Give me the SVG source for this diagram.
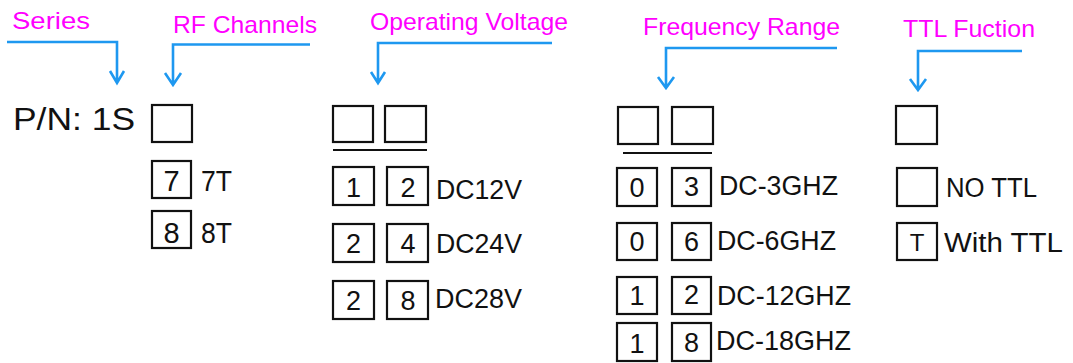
<svg xmlns="http://www.w3.org/2000/svg" width="1073" height="363" viewBox="0 0 1073 363">
<style>
.t{font-family:"Liberation Sans",Arial,sans-serif;fill:#FF00FF;font-size:24px}
.k{font-family:"Liberation Sans",Arial,sans-serif;fill:#111;font-size:27px}
.d{font-family:"Liberation Sans",Arial,sans-serif;fill:#111;font-size:27px;text-anchor:middle}
.b{fill:#fff;stroke:#111;stroke-width:2.2}
.c{fill:none;stroke:#1E98F0;stroke-width:2.6}
.u{stroke:#111;stroke-width:2.2}
</style>
<rect width="1073" height="363" fill="#fff"/>
<g id="titles">
<text class="t" x="12" y="29" textLength="78" lengthAdjust="spacingAndGlyphs">Series</text>
<text class="t" x="173" y="32.5" textLength="144" lengthAdjust="spacingAndGlyphs">RF Channels</text>
<text class="t" x="370" y="29.5" textLength="198" lengthAdjust="spacingAndGlyphs">Operating Voltage</text>
<text class="t" x="643" y="35" textLength="197" lengthAdjust="spacingAndGlyphs">Frequency Range</text>
<text class="t" x="903" y="36.5" textLength="132" lengthAdjust="spacingAndGlyphs">TTL Fuction</text>
</g>
<g id="connectors">
<path class="c" d="M7,42 H117 V83 M110,71 L117,83 L124,71"/>
<path class="c" d="M310,44.5 H173 V85 M165,73 L173,85 L181,73"/>
<path class="c" d="M552,43 H378 V83 M371,72 L378,83 L385,72"/>
<path class="c" d="M837,48 H666 V88 M658,77 L666,88 L674,77"/>
<path class="c" d="M1022,51 H918 V90 M910,79 L918,90 L926,79"/>
</g>
<g id="pn">
<text class="k" x="13" y="130" style="font-size:32px" textLength="122" lengthAdjust="spacingAndGlyphs">P/N: 1S</text>
</g>
<g id="rf">
<rect class="b" x="152" y="105" width="40" height="37"/>
<rect class="b" x="152" y="161" width="39" height="37"/>
<text class="d" x="171.5" y="191" style="font-size:29px">7</text>
<text class="k" x="201" y="191" style="font-size:29px" textLength="31" lengthAdjust="spacingAndGlyphs">7T</text>
<rect class="b" x="152" y="211" width="39" height="37"/>
<text class="d" x="171.5" y="243" style="font-size:29px">8</text>
<text class="k" x="201" y="243" style="font-size:29px" textLength="31" lengthAdjust="spacingAndGlyphs">8T</text>
</g>
<g id="voltage">
<rect class="b" x="333" y="106" width="40" height="36"/>
<rect class="b" x="385" y="106" width="41" height="36"/>
<line class="u" x1="333" y1="150" x2="427" y2="150"/>
<rect class="b" x="333" y="167" width="41" height="38"/>
<rect class="b" x="387" y="167" width="41" height="38"/>
<text class="d" x="353.5" y="197">1</text>
<text class="d" x="408" y="197">2</text>
<text class="k" x="436" y="199" textLength="86" lengthAdjust="spacingAndGlyphs">DC12V</text>
<rect class="b" x="333" y="224" width="41" height="38"/>
<rect class="b" x="387" y="224" width="41" height="38"/>
<text class="d" x="353.5" y="253">2</text>
<text class="d" x="408" y="253">4</text>
<text class="k" x="436" y="253" textLength="86" lengthAdjust="spacingAndGlyphs">DC24V</text>
<rect class="b" x="333" y="281" width="41" height="38"/>
<rect class="b" x="387" y="281" width="41" height="38"/>
<text class="d" x="353.5" y="310">2</text>
<text class="d" x="408" y="310">8</text>
<text class="k" x="435" y="308" textLength="87" lengthAdjust="spacingAndGlyphs">DC28V</text>
</g>
<g id="frequency">
<rect class="b" x="618" y="107" width="40" height="37"/>
<rect class="b" x="672" y="107" width="41" height="37"/>
<line class="u" x1="623" y1="153" x2="712" y2="153"/>
<rect class="b" x="617" y="168" width="40" height="38"/>
<rect class="b" x="672" y="168" width="39" height="38"/>
<text class="d" x="637" y="197">0</text>
<text class="d" x="691.5" y="196">3</text>
<text class="k" x="719" y="195" textLength="119" lengthAdjust="spacingAndGlyphs">DC-3GHZ</text>
<rect class="b" x="617" y="223" width="40" height="37"/>
<rect class="b" x="672" y="223" width="39" height="37"/>
<text class="d" x="637" y="251">0</text>
<text class="d" x="691.5" y="251">6</text>
<text class="k" x="717" y="250" textLength="119" lengthAdjust="spacingAndGlyphs">DC-6GHZ</text>
<rect class="b" x="617" y="277" width="40" height="37"/>
<rect class="b" x="672" y="277" width="39" height="37"/>
<text class="d" x="637" y="305">1</text>
<text class="d" x="691.5" y="304">2</text>
<text class="k" x="717" y="305" textLength="134" lengthAdjust="spacingAndGlyphs">DC-12GHZ</text>
<rect class="b" x="617" y="323" width="40" height="38"/>
<rect class="b" x="672" y="323" width="39" height="38"/>
<text class="d" x="637" y="353">1</text>
<text class="d" x="691.5" y="352">8</text>
<text class="k" x="716" y="350" textLength="135" lengthAdjust="spacingAndGlyphs">DC-18GHZ</text>
</g>
<g id="ttl">
<rect class="b" x="896" y="106" width="41" height="38"/>
<rect class="b" x="897" y="168" width="40" height="38"/>
<text class="k" x="946" y="197" textLength="91" lengthAdjust="spacingAndGlyphs">NO TTL</text>
<rect class="b" x="897" y="223" width="40" height="37"/>
<text class="d" x="917" y="251" style="font-size:24px">T</text>
<text class="k" x="944" y="252" textLength="119" lengthAdjust="spacingAndGlyphs">With TTL</text>
</g>
</svg>
